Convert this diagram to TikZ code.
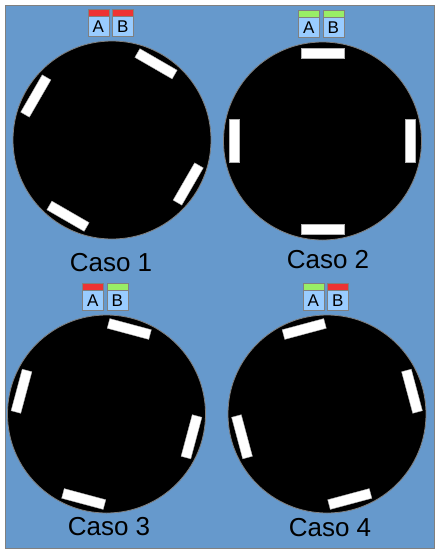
\documentclass[tikz,border=0pt]{standalone}
\usepackage{fontspec}
\setmainfont{Liberation Sans}
\usetikzlibrary{positioning,calc}
\definecolor{PanelBlue}{RGB}{102,153,204}
\definecolor{FrameGrey}{RGB}{128,128,128}
\definecolor{KeyBlue}{RGB}{153,204,255}
\definecolor{OffRed}{RGB}{238,51,51}
\definecolor{OnGreen}{RGB}{153,238,102}
\tikzset{
  disc/.style={circle, draw=FrameGrey, fill=black, minimum size=198pt, inner sep=0pt, line width=0.8pt},
  slot/.style={draw=gray!60, fill=white, minimum width=10pt, minimum height=43pt, inner sep=0pt, line width=0.4pt},
  keybox/.style={draw=FrameGrey, fill=KeyBlue, minimum width=21pt, minimum height=20pt,
    inner sep=0pt, font=\fontsize{17}{17}\selectfont},
  keybar/.style={draw=FrameGrey, minimum width=21pt, minimum height=7pt, inner sep=0pt},
  caselabel/.style={font=\fontsize{26}{26}\selectfont, inner sep=0pt},
}

\begin{document}
\begin{tikzpicture}[x=1pt, y=1pt]
  \useasboundingbox (0,0) rectangle (440,-555);
  \draw[FrameGrey, fill=PanelBlue, line width=1pt] (5,-5) rectangle (434,-548);
  % one disc per case: number/centre/slot offset/colour A/colour B/label
  \foreach \n/\cx/\cy/\off/\ca/\cb/\lx/\ly in {
      1/112/140/60/OffRed/OffRed/111/263,
      2/322.5/141/0/OnGreen/OnGreen/328/260,
      3/106.5/414/75/OffRed/OnGreen/109/527,
      4/327/414/15/OnGreen/OffRed/330/528}{
    \node[disc] (c\n) at (\cx,-\cy) {};
    \foreach \k in {0,...,3}
      \node[slot, rotate=\off+90*\k] (s\n\k) at ($(c\n)+(\off+90*\k:88)$) {};
    \node[keybox, above left=4pt and 3pt of c\n.north] (a\n) {A};
    \node[keybox, right=3pt of a\n] (b\n) {B};
    \node[keybar, fill=\ca, above=0pt of a\n] (ta\n) {};
    \node[keybar, fill=\cb, above=0pt of b\n] (tb\n) {};
    \node[caselabel] (l\n) at (\lx,-\ly) {Caso \n};
  }
\end{tikzpicture}
\end{document}
